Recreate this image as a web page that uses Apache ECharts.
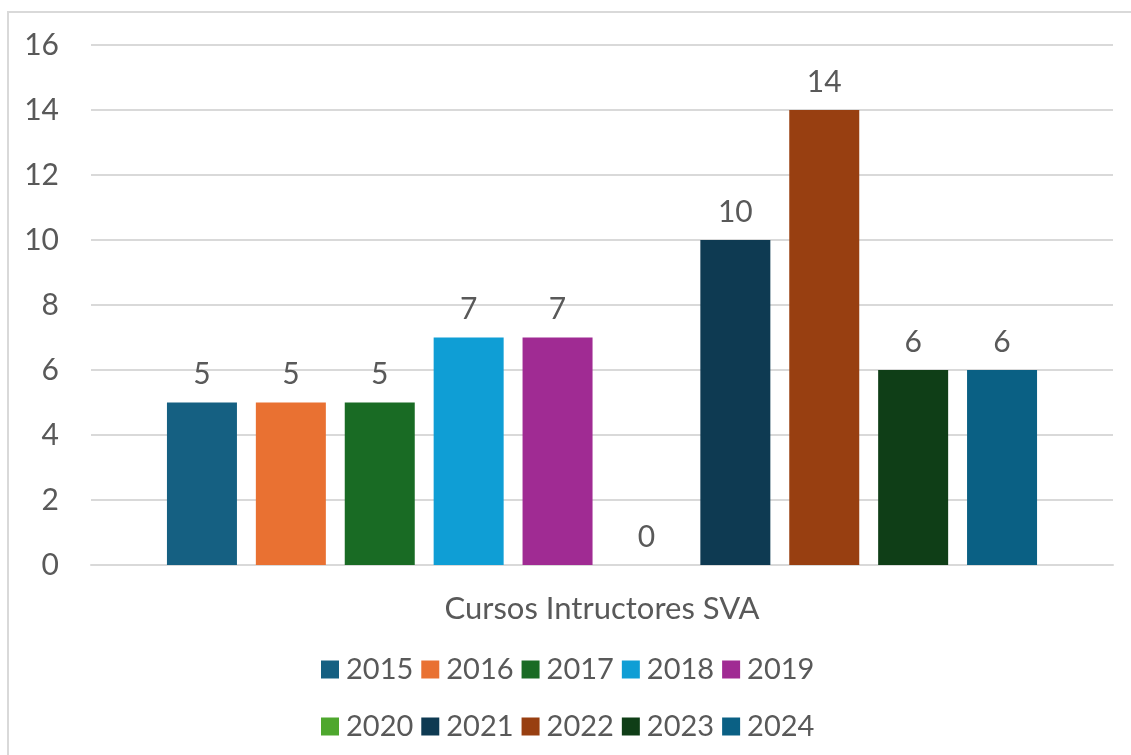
<!DOCTYPE html>
<html>
<head>
<meta charset="utf-8">
<script src="https://cdn.jsdelivr.net/npm/echarts@6/dist/echarts.min.js"></script>
<style>
  html, body { margin: 0; padding: 0; background: #fff; overflow: hidden; }
  #wrap { position: relative; width: 1131px; height: 755px; }
  #frame { position: absolute; left: 7px; top: 11px; width: 1140px; height: 760px; border: 2px solid #d9d9d9; box-sizing: border-box; }
  #chart { position: absolute; left: 0; top: 0; width: 1131px; height: 755px; }
</style>
</head>
<body>
<div id="wrap">
  <div id="frame"></div>
  <div id="chart"></div>
</div>
<script>
// datos
const categorias = ['Cursos Intructores SVA'];
const anios = ['2015', '2016', '2017', '2018', '2019', '2020', '2021', '2022', '2023', '2024'];
const valores = [5, 5, 5, 7, 7, 0, 10, 14, 6, 6];
const colores = ['#156082', '#e97132', '#196b24', '#0f9ed5', '#a02b93', '#4ea72e', '#0e3a52', '#983f11', '#0f3e17', '#0a6084'];

const txt = '#595959';
const fuente = 'Lato';

const chart = echarts.init(document.getElementById('chart'));

const series = anios.map(function (a, i) {
  return {
    name: a,
    type: 'bar',
    barWidth: 70,
    barGap: '27%',
    itemStyle: { color: colores[i] },
    label: {
      show: true,
      position: 'top',
      distance: 13,
      color: txt,
      fontFamily: fuente,
      fontSize: 30
    },
    data: [valores[i]]
  };
});

const leyenda = function (items, top) {
  return {
    data: items,
    left: 316, top: top,
    itemWidth: 18, itemHeight: 18, itemGap: 8,
    icon: 'rect',
    textStyle: { color: txt, fontFamily: fuente, fontSize: 29, padding: [0, 0, 0, 2] }
  };
};

chart.setOption({
  animation: false,
  textStyle: { fontFamily: fuente, color: txt },
  grid: { left: 91, right: 18, top: 45, bottom: 190 },
  legend: [leyenda(anios.slice(0, 5), 650), leyenda(anios.slice(5), 707)],
  xAxis: {
    type: 'category',
    data: categorias,
    axisLine: { lineStyle: { color: '#d9d9d9', width: 2 } },
    axisTick: { show: false },
    axisLabel: { color: txt, fontFamily: fuente, fontSize: 31, margin: 28 }
  },
  yAxis: {
    type: 'value',
    min: 0, max: 16, interval: 2,
    axisLine: { show: false },
    axisTick: { show: false },
    splitLine: { lineStyle: { color: '#d9d9d9', width: 2 } },
    axisLabel: { color: txt, fontFamily: fuente, fontSize: 30, margin: 32 }
  },
  series: series
});
</script>
</body>
</html>
